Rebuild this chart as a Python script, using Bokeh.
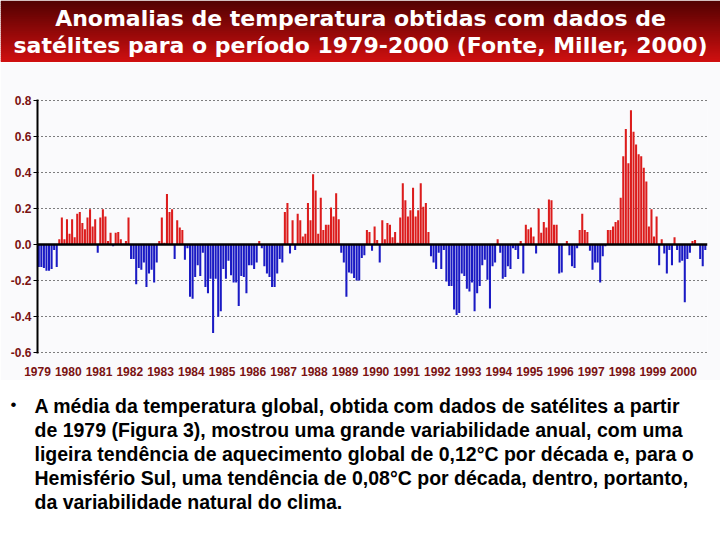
from bokeh.plotting import figure
from bokeh.models import Range1d, FixedTicker, Span, NumeralTickFormatter, ColumnDataSource
from bokeh.layouts import column, row
from bokeh.core.properties import value
from bokeh.embed import file_html
from bokeh.resources import INLINE

# ---------------- data (monthly anomalies) ----------------
y1979 = [-0.125, -0.125, -0.13, -0.145, -0.145, -0.135, -0.03, -0.125, 0.03, 0.15, 0.03, 0.14]
y1980 = [0.06, 0.14, 0.04, 0.17, 0.18, 0.12, 0.085, 0.15, 0.195, 0.10, 0.14, -0.045]
y1981 = [0.15, 0.195, 0.155, 0.02, 0.065, -0.01, 0.065, 0.07, 0.03, 0.005, 0.02, 0.15]
y1982 = [-0.08, -0.08, -0.22, -0.13, -0.14, -0.10, -0.235, -0.16, -0.14, -0.21, -0.10, 0.02]
y1983 = [0.15, 0.01, 0.28, 0.18, 0.195, -0.08, 0.135, 0.095, 0.08, -0.085, -0.02, -0.29]
y1984 = [-0.30, -0.18, -0.115, -0.175, -0.045, -0.235, -0.27, -0.19, -0.49, -0.19, -0.40, -0.37]
y1985 = [-0.135, -0.19, -0.09, -0.17, -0.21, -0.21, -0.34, -0.175, -0.18, -0.27, -0.115, -0.115]
y1986 = [-0.135, -0.10, 0.02, -0.02, -0.12, -0.16, -0.18, -0.235, -0.235, -0.16, -0.08, -0.10]
y1987 = [0.18, 0.23, -0.05, 0.135, -0.03, 0.17, 0.135, 0.045, 0.06, 0.23, 0.135, 0.39]
y1988 = [0.30, 0.06, 0.26, 0.08, 0.11, 0.11, 0.205, 0.155, 0.285, 0.14, -0.045, -0.10]
y1989 = [-0.29, -0.155, -0.16, -0.185, -0.20, -0.20, -0.075, -0.06, 0.08, 0.07, -0.035, 0.10]
y1990 = [0.025, -0.10, 0.135, 0.03, 0.12, 0.11, 0.04, 0.07, 0.01, 0.15, 0.34, 0.245]
y1991 = [0.155, 0.19, 0.315, 0.155, 0.19, 0.34, 0.21, 0.23, 0.07, -0.065, -0.10, -0.135]
y1992 = [-0.045, -0.135, -0.03, -0.205, -0.23, -0.23, -0.36, -0.39, -0.38, -0.16, -0.175, -0.245]
y1993 = [-0.26, -0.21, -0.37, -0.27, -0.23, -0.115, -0.085, -0.195, -0.355, -0.12, -0.10, 0.03]
y1994 = [-0.045, -0.19, -0.18, -0.12, -0.135, -0.02, -0.03, -0.08, 0.02, -0.16, 0.11, 0.085]
y1995 = [0.095, 0.045, -0.05, 0.20, 0.065, 0.125, 0.095, 0.25, 0.245, 0.11, 0.11, -0.16]
y1996 = [-0.155, 0.0, 0.02, -0.06, -0.12, -0.13, -0.02, 0.08, 0.17, 0.08, 0.07, -0.035]
y1997 = [-0.14, -0.10, -0.10, -0.21, -0.065, -0.01, 0.08, 0.08, 0.10, 0.125, 0.135, 0.26]
y1998 = [0.49, 0.64, 0.45, 0.745, 0.625, 0.555, 0.50, 0.49, 0.425, 0.35, 0.10, 0.195]
y1999 = [0.045, 0.155, -0.115, 0.03, -0.05, -0.16, -0.03, -0.115, 0.04, -0.03, -0.10, -0.09]
y2000 = [-0.32, -0.08, -0.045, 0.02, 0.025, 0.0, -0.08, -0.12, -0.03]

year_ticks = [1979, 1980, 1981, 1982, 1983, 1984, 1985, 1986, 1987, 1988, 1989,
              1990, 1991, 1992, 1993, 1994, 1995, 1996, 1997, 1998, 1999, 2000]
y_ticks = [-0.6, -0.4, -0.2, 0.0, 0.2, 0.4, 0.6, 0.8]

title_lines = ["Anomalias de temperatura obtidas com dados de",
               "satélites para o período 1979-2000 (Fonte, Miller, 2000)"]
body_lines = [
    "A média da temperatura global, obtida com dados de satélites a partir",
    "de 1979 (Figura 3), mostrou uma grande variabilidade anual, com uma",
    "ligeira tendência de aquecimento global de 0,12°C por década e, para o",
    "Hemisfério Sul, uma tendência de 0,08°C por década, dentro, portanto,",
    "da variabilidade natural do clima.",
]

# ---------------- styles ----------------
W = 720
RED = "#dc1c1c"
BLUE = "#1a1ac4"
LABEL_RED = "#7a1212"
TICK_FONT = "Liberation Sans"

# ---------------- banner ----------------
bh = 62
banner = figure(width=W, height=bh, x_range=Range1d(0, W), y_range=Range1d(bh, 0),
                output_backend="svg", toolbar_location=None, min_border=0,
                x_axis_location=None, y_axis_location=None)
banner.grid.visible = False
banner.outline_line_color = None
nb = 31
tops, bots, cols = [], [], []
c0 = (84, 2, 2)
c1 = (208, 16, 16)
for k in range(nb):
    t = k / (nb - 1)
    r = int(c0[0] + (c1[0] - c0[0]) * t)
    g = int(c0[1] + (c1[1] - c0[1]) * t)
    b = int(c0[2] + (c1[2] - c0[2]) * t)
    tops.append(k * bh / nb)
    bots.append((k + 1) * bh / nb + 0.5)
    cols.append("#%02x%02x%02x" % (r, g, b))
banner.quad(left=0, right=W, top=tops, bottom=bots, fill_color=cols, line_color=None)
banner.text(x=[W / 2, W / 2], y=[18, 45], text=title_lines, text_align="center",
            text_baseline="middle", text_color="white", text_font=value("DejaVu Sans"),
            text_font_style="bold", text_font_size="22px")

# ---------------- chart ----------------
values = (y1979 + y1980 + y1981 + y1982 + y1983 + y1984 + y1985 + y1986 + y1987 + y1988 +
          y1989 + y1990 + y1991 + y1992 + y1993 + y1994 + y1995 + y1996 + y1997 + y1998 +
          y1999 + y2000)
xs = [year_ticks[0] + (i + 0.5) / 12 for i in range(len(values))]
colors = [RED if v >= 0 else BLUE for v in values]
src = ColumnDataSource(dict(x=xs, top=values, color=colors))

ch = 318
p = figure(width=W, height=ch, x_range=Range1d(1979.0, 2000.78), y_range=Range1d(-0.604, 0.804),
           output_backend="svg", toolbar_location=None,
           min_border_left=37, min_border_right=13, min_border_top=37, min_border_bottom=27)
p.background_fill_color = "#fafafc"
p.border_fill_color = "#fafafc"
p.outline_line_color = None

p.vbar(x="x", top="top", bottom=0, width=0.8 / 12, fill_color="color", line_color=None, source=src)

p.xgrid.visible = False
p.ygrid.ticker = FixedTicker(ticks=y_ticks)
p.ygrid.grid_line_color = "black"
p.ygrid.grid_line_dash = "1 3"
p.ygrid.grid_line_width = 1

p.add_layout(Span(location=0, dimension="width", line_color="black", line_width=2.5))

p.yaxis.ticker = FixedTicker(ticks=y_ticks)
p.yaxis.formatter = NumeralTickFormatter(format="0.0")
p.yaxis.axis_line_width = 2
p.yaxis.axis_line_color = "black"
p.yaxis.major_tick_line_color = "black"
p.yaxis.major_tick_out = 4
p.yaxis.major_tick_in = 0
p.yaxis.minor_tick_line_color = None
p.yaxis.major_label_standoff = 2
p.yaxis.major_label_text_font = TICK_FONT
p.yaxis.major_label_text_font_style = "bold"
p.yaxis.major_label_text_font_size = "12px"
p.yaxis.major_label_text_color = LABEL_RED

p.xaxis.ticker = FixedTicker(ticks=year_ticks)
p.xaxis.major_label_overrides = {y: str(y) for y in year_ticks}
p.xaxis.axis_line_color = None
p.xaxis.major_tick_line_color = None
p.xaxis.minor_tick_line_color = None
p.xaxis.major_label_standoff = 7
p.xaxis.major_label_text_font = TICK_FONT
p.xaxis.major_label_text_font_style = "bold"
p.xaxis.major_label_text_font_size = "12px"
p.xaxis.major_label_text_color = LABEL_RED

# ---------------- text block ----------------
th = 160
tx = figure(width=W, height=th, x_range=Range1d(0, W), y_range=Range1d(th, 0),
            output_backend="svg", toolbar_location=None, min_border=0,
            x_axis_location=None, y_axis_location=None)
tx.grid.visible = False
tx.outline_line_color = None
tx.background_fill_color = "white"
tx.border_fill_color = "white"
line_y = [25 + 24 * i for i in range(len(body_lines))]
tx.text(x=[34] * len(body_lines), y=line_y, text=body_lines, text_align="left",
        text_baseline="middle", text_color="black", text_font=value("Liberation Sans"),
        text_font_style="bold", text_font_size="19.5px")
tx.text(x=[10], y=[24], text=["•"], text_align="left", text_baseline="middle",
        text_color="black", text_font=value("Liberation Sans"), text_font_size="17px")

layout = column(row(banner), p, row(tx), spacing=0)
open("out.html", "w").write(file_html(layout, INLINE))
